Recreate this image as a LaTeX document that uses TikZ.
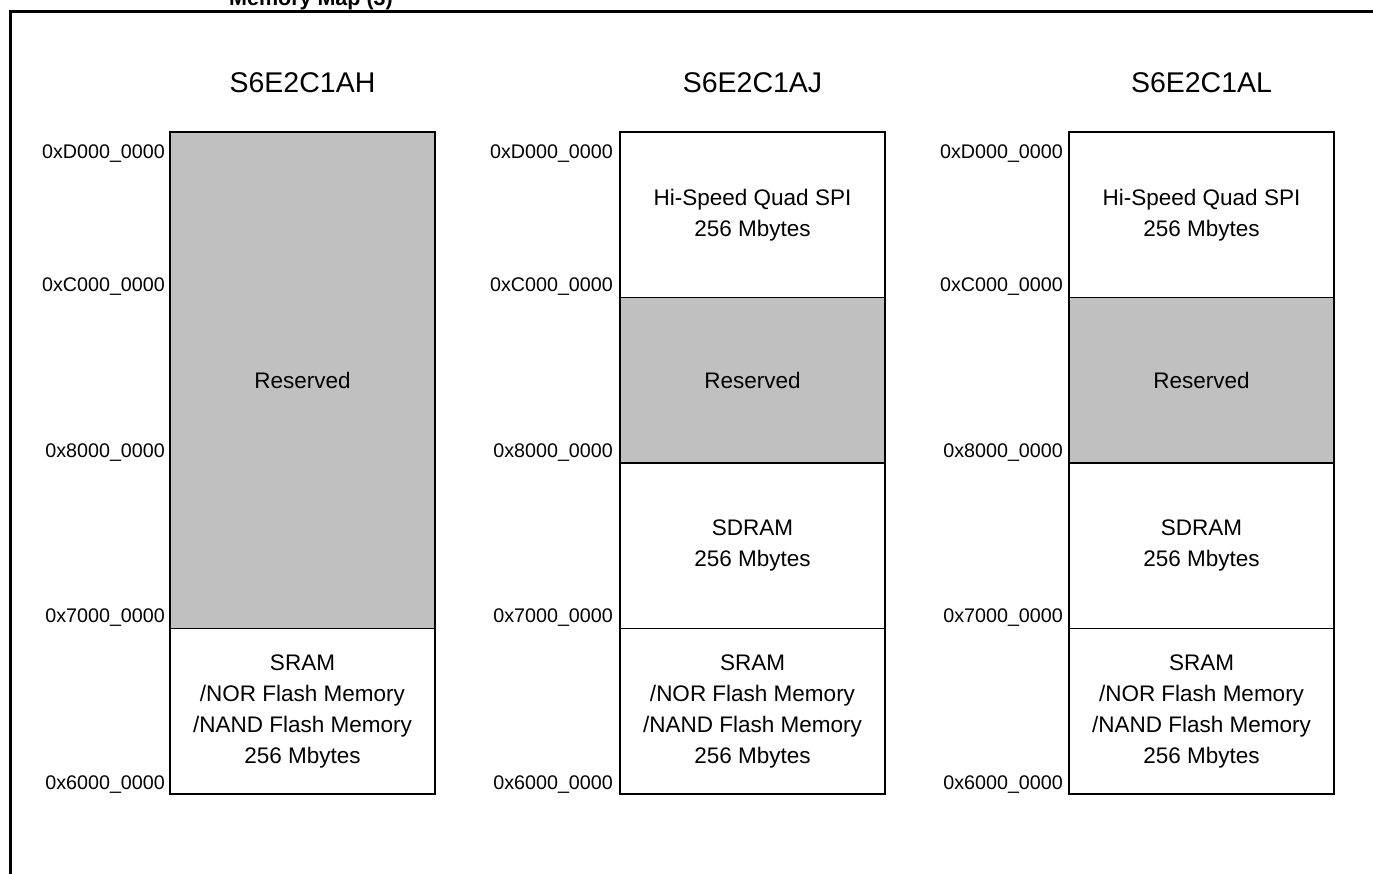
\documentclass[tikz,border=0pt]{standalone}
\usepackage{fontspec}
\setmainfont{Liberation Sans}
\definecolor{resgray}{HTML}{C0C0C0}
\begin{document}
\begin{tikzpicture}[x=1pt,y=-1pt,
  region/.style={draw=black, line width=1.8pt, anchor=north west, minimum width=265pt,
    minimum height=#1, inner sep=0pt, outer sep=0pt, align=center,
    font=\fontsize{22.5}{31}\selectfont},
  region/.default=165.5pt,
  reserved/.style={region=#1, fill=resgray},
  reserved/.default=165.5pt,
  addr/.style={anchor=base east, font=\fontsize{19.7}{22}\selectfont, inner sep=0pt},
  head/.style={anchor=base, font=\fontsize{28.5}{32}\selectfont, inner sep=0pt},
  frame/.style={line width=3pt}]
\useasboundingbox (0,0) rectangle (1373,873);
% frame and title
\draw[frame] (10.5,880) -- (10.5,11) -- (1380,11);
\node[anchor=base west, inner sep=0pt, font=\bfseries\fontsize{21.5}{24}\selectfont] (title) at (229,5) {Memory Map (3)};
% headings
\node[head] (h1) at (302.5,92) {S6E2C1AH};
\node[head] (h2) at (752.5,92) {S6E2C1AJ};
\node[head] (h3) at (1201.5,92) {S6E2C1AL};
% column 1
\node[reserved=496.5pt] (c1res) at (170,132) {Reserved};
\node[region] (c1sram) at (170,628.5) {SRAM\\/NOR Flash Memory\\/NAND Flash Memory\\256 Mbytes};
% column 2
\node[region] (c2spi) at (620,132) {Hi-Speed Quad SPI\\256 Mbytes};
\node[reserved] (c2res) at (620,297.5) {Reserved};
\node[region] (c2sdram) at (620,463) {SDRAM\\256 Mbytes};
\node[region] (c2sram) at (620,628.5) {SRAM\\/NOR Flash Memory\\/NAND Flash Memory\\256 Mbytes};
% column 3
\node[region] (c3spi) at (1069,132) {Hi-Speed Quad SPI\\256 Mbytes};
\node[reserved] (c3res) at (1069,297.5) {Reserved};
\node[region] (c3sdram) at (1069,463) {SDRAM\\256 Mbytes};
\node[region] (c3sram) at (1069,628.5) {SRAM\\/NOR Flash Memory\\/NAND Flash Memory\\256 Mbytes};
% addresses
\foreach \col/\x in {1/165,2/613,3/1063}{
  \node[addr] (a\col d) at (\x,158) {0xD000\_0000};
  \node[addr] (a\col c) at (\x,291) {0xC000\_0000};
  \node[addr] (a\col 8) at (\x,457) {0x8000\_0000};
  \node[addr] (a\col 7) at (\x,622.5) {0x7000\_0000};
  \node[addr] (a\col 6) at (\x,789) {0x6000\_0000};
}
\end{tikzpicture}
\end{document}
